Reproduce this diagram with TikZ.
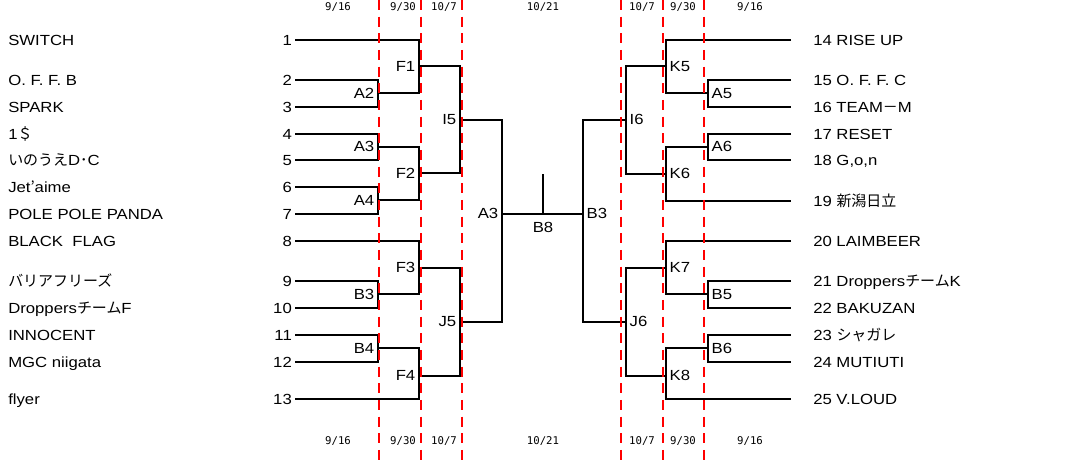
\documentclass[tikz,border=0pt]{standalone}
\usepackage{fontspec}
\setmainfont{Liberation Sans}[FakeStretch=1.14]
\newfontfamily\jp{Noto Sans CJK JP}[Scale=1.02]
\newfontfamily\datefont{DejaVu Sans Mono}

\tikzset{
  team/.style={anchor=west,inner sep=0pt,text height=7.9pt,text depth=0pt,font=\fontsize{11}{13}\selectfont},
  num/.style={anchor=east,inner xsep=2.2pt,inner ysep=0pt,text height=7.9pt,text depth=0pt,font=\fontsize{11}{13}\selectfont},
  teamr/.style={anchor=west,inner xsep=16.5pt,inner ysep=0pt,text height=7.9pt,text depth=0pt,font=\fontsize{11}{13}\selectfont},
  lbl/.style={anchor=east,inner xsep=2.6pt,inner ysep=0pt,text height=7.9pt,text depth=0pt,font=\fontsize{11}{13}\selectfont},
  lblr/.style={anchor=west,inner xsep=2.6pt,inner ysep=0pt,text height=7.9pt,text depth=0pt,font=\fontsize{11}{13}\selectfont},
  date/.style={inner sep=0pt,font=\datefont\fontsize{8}{10}\selectfont},
  bracket/.style={line width=1.5pt},
  cut/.style={color=red,line width=2.2pt,dash pattern={on 7.5pt off 5pt}}
}

\begin{document}
\begin{tikzpicture}[x=0.75pt,y=0.75pt,yscale=-1,xscale=1]
\useasboundingbox (0,0) rectangle (1072,466);

% team names, left
\node[team] (n1) at (8,40) {SWITCH};
\node[team] (n2) at (8,80) {O. F. F. B};
\node[team] (n3) at (8,107) {SPARK};
\node[team] (n4) at (8,134) {1{\jp ＄}};
\node[team] (n5) at (8,160) {{\jp いのうえ}D{\jp ･}C};
\node[team] (n6) at (8,187) {Jet{\jp ’}aime};
\node[team] (n7) at (8,214) {POLE POLE PANDA};
\node[team] (n8) at (8,241) {BLACK\ \ FLAG};
\node[team] (n9) at (8,281) {{\jp バリアフリーズ}};
\node[team] (n10) at (8,308) {Droppers{\jp チーム}F};
\node[team] (n11) at (8,335) {INNOCENT};
\node[team] (n12) at (8,362) {MGC niigata};
\node[team] (n13) at (8,399) {flyer};

% seed numbers, left
\node[num] (t1) at (295,40) {1};
\node[num] (t2) at (295,80) {2};
\node[num] (t3) at (295,107) {3};
\node[num] (t4) at (295,134) {4};
\node[num] (t5) at (295,160) {5};
\node[num] (t6) at (295,187) {6};
\node[num] (t7) at (295,214) {7};
\node[num] (t8) at (295,241) {8};
\node[num] (t9) at (295,281) {9};
\node[num] (t10) at (295,308) {10};
\node[num] (t11) at (295,335) {11};
\node[num] (t12) at (295,362) {12};
\node[num] (t13) at (295,399) {13};

% teams, right
\node[teamr] (t14) at (791,40) {14 RISE UP};
\node[teamr] (t15) at (791,80) {15 O. F. F. C};
\node[teamr] (t16) at (791,107) {16 TEAM{\jp －}M};
\node[teamr] (t17) at (791,134) {17 RESET};
\node[teamr] (t18) at (791,160) {18 G,o,n};
\node[teamr] (t19) at (791,201) {19 {\jp 新潟日立}};
\node[teamr] (t20) at (791,241) {20 LAIMBEER};
\node[teamr] (t21) at (791,281) {21 Droppers{\jp チーム}K};
\node[teamr] (t22) at (791,308) {22 BAKUZAN};
\node[teamr] (t23) at (791,335) {23 {\jp シャガレ}};
\node[teamr] (t24) at (791,362) {24 MUTIUTI};
\node[teamr] (t25) at (791,399) {25 V.LOUD};

% matches, left
\node[lbl] (A2) at (378,93.3) {A2};
\node[lbl] (A3) at (378,146.7) {A3};
\node[lbl] (A4) at (378,200.5) {A4};
\node[lbl] (B3) at (378,294.3) {B3};
\node[lbl] (B4) at (378,348.3) {B4};
\node[lbl] (F1) at (419,66.5) {F1};
\node[lbl] (F2) at (419,173.5) {F2};
\node[lbl] (F3) at (419,267.7) {F3};
\node[lbl] (F4) at (419,375.7) {F4};
\node[lbl] (I5) at (460,119.7) {I5};
\node[lbl] (J5) at (460,321.7) {J5};
\node[lbl] (A3s) at (502,213.7) {A3};

% matches, right
\node[lblr] (A5) at (708,93.3) {A5};
\node[lblr] (A6) at (708,146.7) {A6};
\node[lblr] (B5) at (708,294.3) {B5};
\node[lblr] (B6) at (708,348.3) {B6};
\node[lblr] (K5) at (666,66.3) {K5};
\node[lblr] (K6) at (666,173.7) {K6};
\node[lblr] (K7) at (666,267.7) {K7};
\node[lblr] (K8) at (666,375.7) {K8};
\node[lblr] (I6) at (626,119.7) {I6};
\node[lblr] (J6) at (626,321.7) {J6};
\node[lblr] (B3s) at (583,213.7) {B3};

% final
\node[lbl,anchor=center,inner sep=0pt] (B8) at (543,227) {B8};
\coordinate (fin) at (543,213.7);
\coordinate (top) at (543,174);

% bracket, left
\draw[bracket] (t2.east) -| (A2.east) |- (t3.east);
\draw[bracket] (t4.east) -| (A3.east) |- (t5.east);
\draw[bracket] (t6.east) -| (A4.east) |- (t7.east);
\draw[bracket] (t9.east) -| (B3.east) |- (t10.east);
\draw[bracket] (t11.east) -| (B4.east) |- (t12.east);
\draw[bracket] (t1.east) -| (F1.east) |- (A2.east);
\draw[bracket] (A3.east) -| (F2.east) |- (A4.east);
\draw[bracket] (t8.east) -| (F3.east) |- (B3.east);
\draw[bracket] (B4.east) -| (F4.east) |- (t13.east);
\draw[bracket] (F1.east) -| (I5.east) |- (F2.east);
\draw[bracket] (F3.east) -| (J5.east) |- (F4.east);
\draw[bracket] (I5.east) -| (A3s.east) |- (J5.east);

% bracket, right
\draw[bracket] (t15.west) -| (A5.west) |- (t16.west);
\draw[bracket] (t17.west) -| (A6.west) |- (t18.west);
\draw[bracket] (t21.west) -| (B5.west) |- (t22.west);
\draw[bracket] (t23.west) -| (B6.west) |- (t24.west);
\draw[bracket] (t14.west) -| (K5.west) |- (A5.west);
\draw[bracket] (A6.west) -| (K6.west) |- (t19.west);
\draw[bracket] (t20.west) -| (K7.west) |- (B5.west);
\draw[bracket] (B6.west) -| (K8.west) |- (t25.west);
\draw[bracket] (K5.west) -| (I6.west) |- (K6.west);
\draw[bracket] (K7.west) -| (J6.west) |- (K8.west);
\draw[bracket] (I6.west) -| (B3s.west) |- (J6.west);

% final line
\draw[bracket] (A3s.east) -- (B3s.west);
\draw[bracket] (fin) -- (top);

% date cuts
\draw[cut] (379,0) -- (379,466);
\draw[cut] (421,0) -- (421,466);
\draw[cut] (462,0) -- (462,466);
\draw[cut] (621,0) -- (621,466);
\draw[cut] (663,0) -- (663,466);
\draw[cut] (704,0) -- (704,466);

% dates
\node[date] (d1) at (338,7) {9/16};
\node[date] (d2) at (403,7) {9/30};
\node[date] (d3) at (444,7) {10/7};
\node[date] (d4) at (543,7) {10/21};
\node[date] (d5) at (642,7) {10/7};
\node[date] (d6) at (683,7) {9/30};
\node[date] (d7) at (750,7) {9/16};
\node[date] (e1) at (338,441) {9/16};
\node[date] (e2) at (403,441) {9/30};
\node[date] (e3) at (444,441) {10/7};
\node[date] (e4) at (543,441) {10/21};
\node[date] (e5) at (642,441) {10/7};
\node[date] (e6) at (683,441) {9/30};
\node[date] (e7) at (750,441) {9/16};
\end{tikzpicture}
\end{document}
